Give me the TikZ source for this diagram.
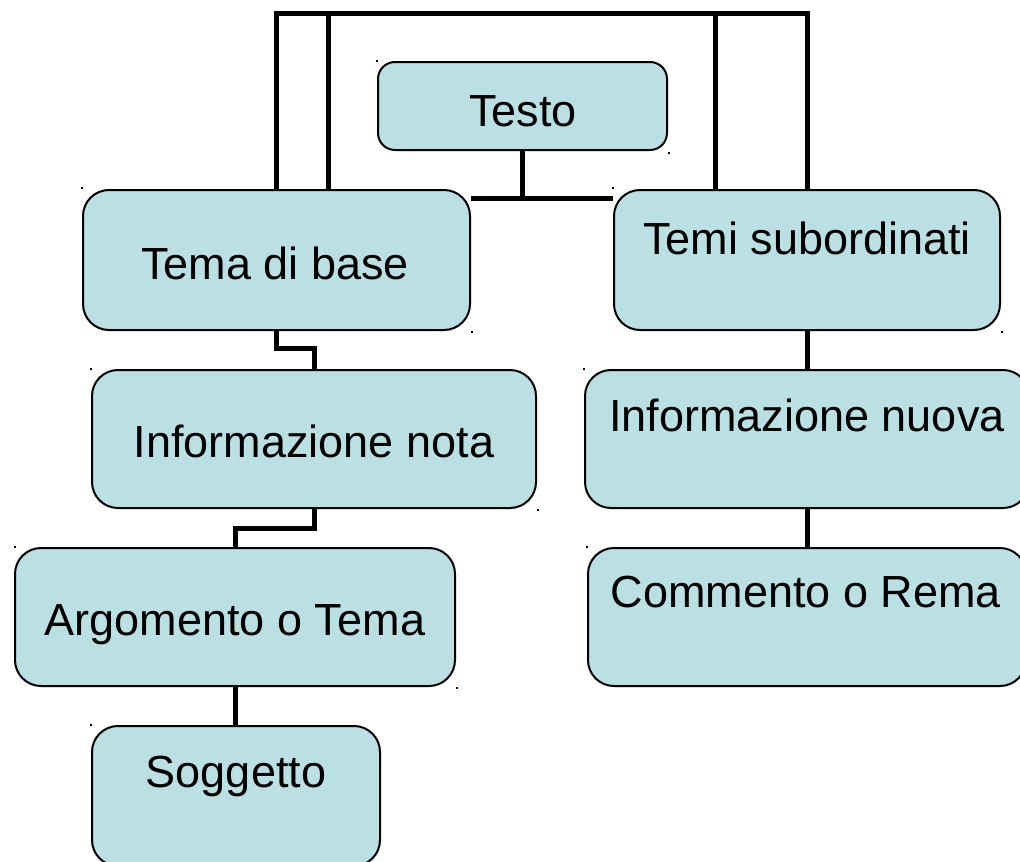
\documentclass[tikz,border=0pt]{standalone}
\usepackage{fontspec}
\setmainfont{Liberation Sans}
\usetikzlibrary{backgrounds}
\definecolor{boxfill}{RGB}{187,224,227}
\begin{document}
\begin{tikzpicture}[x=1pt,y=-1pt,
  box/.style={draw=black, line width=2pt, fill=boxfill, rounded corners=26pt, inner sep=0pt},
  smallbox/.style={box, rounded corners=17pt},
  lbl/.style={anchor=base, inner sep=0pt, font=\fontsize{45}{54}\selectfont},
  conn/.style={line width=5pt, draw=black},
  dotmark/.style={fill=black}]
\useasboundingbox (0,0) rectangle (1020,862);
\clip (0,0) rectangle (1020,862);
% boxes
\node[smallbox, minimum width=289pt, minimum height=88pt] (testo) at (522.5,106) {};
\node[box, minimum width=387pt, minimum height=140pt] (tema) at (276.5,260) {};
\node[box, minimum width=386pt, minimum height=140pt] (temi) at (807,260) {};
\node[box, minimum width=444pt, minimum height=138pt] (nota) at (314,439) {};
\node[box, minimum width=444pt, minimum height=138pt] (nuova) at (807,439) {};
\node[box, minimum width=440pt, minimum height=138pt] (arg) at (235,617) {};
\node[box, minimum width=438pt, minimum height=138pt] (comm) at (807,617) {};
\node[box, minimum width=288pt, minimum height=140pt] (sogg) at (236,796) {};
% labels
\node[lbl] (ltesto) at (523,126) {Testo};
\node[lbl] (ltema) at (275,279) {Tema di base};
\node[lbl] (ltemi) at (807,254) {Temi subordinati};
\node[lbl] (lnota) at (314,457) {Informazione nota};
\node[lbl] (lnuova) at (807,431) {Informazione nuova};
\node[lbl] (larg) at (235,635) {Argomento o Tema};
\node[lbl] (lcomm) at (806,607) {Commento o Rema};
\node[lbl] (lsogg) at (236,787) {Soggetto};
% connector helper points
\coordinate (top) at (540,13);
\coordinate (bar) at (540,198);
\coordinate (j1) at (300,348);
\coordinate (j2) at (280,528);
\begin{scope}[on background layer]
\draw[conn] (tema.north) |- (top) -| (temi.north);
\draw[conn] ([xshift=52pt]tema.north) |- (top) -| ([xshift=-92pt]temi.north);
\draw[conn] (testo.south) -- (testo.south |- bar);
\draw[conn] (tema.east |- bar) -- (temi.west |- bar);
\draw[conn] (tema.south) |- (j1) -| (nota.north);
\draw[conn] (nota.south) |- (j2) -| (arg.north);
\draw[conn] (arg.south) -- (arg.south |- sogg.north);
\draw[conn] (temi.south) -- (nuova.north);
\draw[conn] (nuova.south) -- (comm.north);
\end{scope}
% tiny corner marks
\foreach \p in {(376,60),(668,152),(81,187),(471,331),(612,187),(1001,331),(90,368),(537,509),(583,368),(14,546),(456,687),(586,546),(90,724)}
  \fill[dotmark] \p rectangle ++(2,2);
\end{tikzpicture}
\end{document}
